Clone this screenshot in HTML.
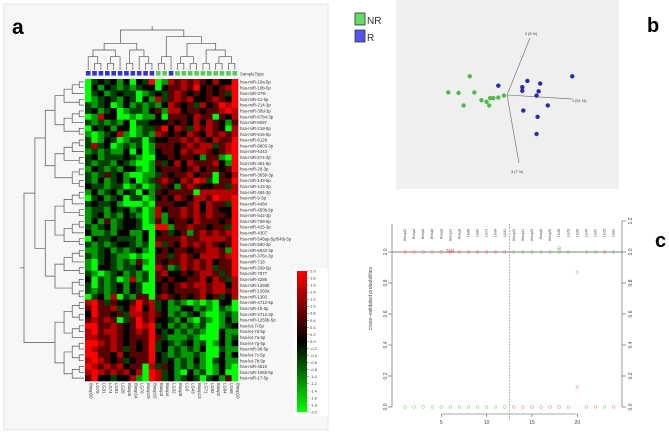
<!DOCTYPE html>
<html><head><meta charset="utf-8"><style>
body{margin:0;background:#fff;width:669px;height:433px;overflow:hidden;font-family:"Liberation Sans",sans-serif}
svg text{font-family:"Liberation Sans",sans-serif}
</style></head><body>
<svg id="fig" width="669" height="433" viewBox="0 0 669 433" xmlns="http://www.w3.org/2000/svg">
<rect x="4" y="4" width="324" height="426" fill="#f7f7f7" stroke="#e6e6e6"/>
<text x="12" y="34" font-size="21" font-weight="bold">a</text>
<text x="647" y="32" font-size="20" font-weight="bold">b</text>
<text x="655" y="247" font-size="20" font-weight="bold">c</text>
<g id="heat"></g>
<g id="pca"></g>
<g id="prob"></g>
</svg>
<script>
// ---------- Panel a data ----------
const rowLabels=["hsa-miR-10a-5p","hsa-miR-10b-5p","hsa-miR-378i","hsa-miR-21-5p","hsa-miR-214-3p","hsa-miR-30d-3p","hsa-miR-6784-3p","hsa-miR-6087","hsa-miR-218-5p","hsa-miR-615-5p","hsa-miR-6128","hsa-miR-6803-3p","hsa-miR-4443","hsa-miR-574-3p","hsa-miR-361-5p","hsa-miR-28-3p","hsa-miR-365b-3p","hsa-miR-143-5p","hsa-miR-143-3p","hsa-miR-494-3p","hsa-miR-9-3p","hsa-miR-4484","hsa-miR-450b-5p","hsa-miR-542-3p","hsa-miR-769-5p","hsa-miR-425-3p","hsa-miR-4307","hsa-miR-548ap-5p/548j-5p","hsa-miR-590-3p","hsa-miR-6832-3p","hsa-miR-376c-3p","hsa-miR-718","hsa-miR-339-5p","hsa-miR-7977","hsa-miR-4286","hsa-miR-1260b","hsa-miR-1260a","hsa-miR-1303","hsa-miR-4712-5p","hsa-miR-16-5p","hsa-miR-4712-3p","hsa-miR-1255b-5p","hsa-let-7i-5p","hsa-let-7d-5p","hsa-let-7a-5p","hsa-let-7g-5p","hsa-miR-98-5p","hsa-let-7c-5p","hsa-let-7b-5p","hsa-miR-4510","hsa-miR-106b-5p","hsa-miR-17-5p"];
const colLabels=["Biosp20","LG78","LG31","LG74","LG81","LG28","Biosp5","Biosp14","LG76","Biosp19","Biosp15","Biosp3","Biosp4","LG32","Biosp8","LG9","LG43","Biosp13","LG71","LG82","Biosp2","LG84","LG68","Biosp10"];
const sampleType=["R","R","R","R","R","R","R","R","R","R","R","NR","NR","R","NR","NR","NR","NR","NR","NR","NR","NR","NR","NR"];
// codes: G=-2 g=-1.2 d=-0.5 k=0 r=0.7 R=1.4 X=2
const heatRows=[
"GdkdkgkGkdXGgRrRrRrkRkkX","GkgkdgdgdkkGkrrRrXkrkrRX","GdkgdkddGgdkdrRrkrkrkrdX","GgdkdgkdGkgRdrRrRkkrRrkX",
"dgdkGgkgdgdgkRrkrdRkrXRX","dkgdkGgddgkrgRRkrrkrrRXR","GgRkkGGgGggkGrrrkRrrGrkR","dgdgdgkGddkkkrkrkRkRrkgr",
"GkdkgkkGgddrXkRrdRrRrkGR","gGgdkRgGgdgRrkrkRrkRrRrR","dGgkdGgddGdkkrrRrRrkRrrX","dRdkGgdgdGgrrrkrRrRRdrRX",
"gdgdggkGkGgkrrkRrRRrkrRX","dkgdddkdgGGkkrkrrkgrrgGX","dgddgkdgGGgrdkRkRrrrRkgX","gkdgdgkkgGgkrrrkrRkrrkrX",
"dgdrdkgGGggdrkrrRkrrGrkR","dgkgdkgkGgdrRrkRrXRdGrrX","kddgddGgdGgdrkgrRrkkrrdR","gkgdkgkdGkgrkrrrrGRRRRRR",
"GdkgdkGddGgkrkRrkRRrXRRX","dkddkgGGGgGrrrkkrRkRrrdX","gddgkdkgdGgRkrrRrRkRrkkX","gdkgdgkdgGgRgrrRrRrRrrkX",
"gkgrgdkkdGgrgkrrkRrrrkrX","dgdkgdkkdGGXXgrrRrrkrrdX","kggdgkkggkGkrdkrgrRrRrRX","GkddkdddgkGrrrrRrrRRRRrX",
"dgdgdkkdgdGRdrkRrRrRrkrX","ggdkgdgdkgGkrkrrkrrRRrgX","dgdkdggGgGGrrdrRrkRRRrRX","gGdkdgdgrgGrkrrRrRrRkrrX",
"gGkkdgddkGGRrgdRrRrRdrrX","dgGgdkgdgdGrRkkrkrRRrdrX","kGdgdGgRgdGrkrkkrrRkRrdR","dGdgdkgkdGGkrkrRrRRrRRkR",
"dgdgdkgkdGGkrkrrrrRrRRrR","GdkgRGdgrrGrRrkrkrRkrdkR",
"RXrdrkkrXrRdkgdgGgGgGkkG","rXrrRdkRXkRdkggkkgdgGdgG","kXrrkrdRRrRrkgdgdkgGGgdg","rRrRrGdrXrRkkdgkgGdgGgkg",
"XXrrRrkrXRXdkgdgdgdGGgdk","RXrRRrkrRrXkdkgdgdgGGkgg","RRrrRrkrrrXrdgggdgGGGkgd","XXRrRrkrkrXdkdgdkgdGgkgk",
"XRrrRrdrkrXdkgdgdgkGGdgg","XXrrkRkrrrXkdgdggdgGGkgk","RXRrkrdkrrXkdkgdgkgGdkgg","XRrRrRkrrGRdrkgdgdgGgkgG",
"RXRrRrRkRGXRdkgGkgdGgkGG","rXkkdkkRgGXRdkgdkdGdkgrG"];
const codeVal={G:-2,g:-1.2,d:-0.5,k:0,r:0.7,R:1.4,X:2};
const cbTicks=[2.0,1.8,1.6,1.4,1.2,1.0,0.8,0.6,0.4,0.2,0.0,-0.2,-0.4,-0.6,-0.8,-1.0,-1.2,-1.4,-1.6,-1.8,-2.0];
const colTree=[[[[0,[1,2]],[[3,4],5]],[[6,7],[8,[9,10]]]],[[[11,12],13],[[[14,15],[16,17]],[[18,19],[[20,21],[22,23]]]]]];
// ---------- Panel b data ----------
const nrPC1=[-1.15,-0.95,-0.73,-0.64,-0.85,-0.5,-0.4,-0.33,-0.35,-0.27,-0.17,-0.06];
const nrPC2=[0.05,0.04,0.36,0.05,-0.2,-0.1,-0.13,-0.06,-0.2,-0.06,-0.05,-0.01];
const rPC1=[-0.17,0.4,0.65,0.3,0.3,0.62,0.58,1.28,0.8,0.32,0.6,0.58];
const rPC2=[0.18,0.27,0.22,0.15,0.08,0.07,-0.01,0.36,-0.2,-0.3,-0.42,-0.75];
// ---------- Panel c data ----------
const caseIdx=[1,2,3,4,5,6,7,8,9,10,11,12,13,14,15,16,17,18,19,20,21,22,23,24];
const probR=[0,0,0,0,0,0,0,0,0,0,0,0,1,1,1,1,1,1,1,0.87,1,1,0,1];
const probNR=[1,1,1,1,1,1,1,1,1,1,1,1,0,0,0,0,0,0,0,0.13,0,0,1,0];
const caseLabels=["Biosp10","Biosp4","Biosp2","Biosp8","Biosp3","Biosp13","Biosp9","LG68","LG82","LG71","LG84","LG42","Biosp19","Biosp14","Biosp15","Biosp5","Biosp20","LG38","LG78","LG28","LG76","LG87","LG32","LG81"];
const yTicks=[0,0.2,0.4,0.6,0.8,1.0];
const yTicksR=[0,0.2,0.4,0.6,0.8,1.0,1.2];
const xTicks=[5,10,15,20];

const NS="http://www.w3.org/2000/svg";
function mk(tag,attrs,parent,txt){const e=document.createElementNS(NS,tag);for(const k in attrs)e.setAttribute(k,attrs[k]);if(txt!==undefined)e.textContent=txt;parent.appendChild(e);return e;}
function heatColor(v){const t=Math.max(-2,Math.min(2,v))/2;if(t>=0)return `rgb(${Math.round(255*t)},0,0)`;return `rgb(0,${Math.round(255*-t)},0)`;}

// ----- heatmap -----
const HM=document.getElementById('heat');
const hx0=85,hx1=238,hy0=79,hy1=381;
const cw=(hx1-hx0)/colLabels.length, rh=(hy1-hy0)/rowLabels.length;
const cxf=i=>hx0+cw*(i+0.5), ryf=j=>hy0+rh*(j+0.5);
heatRows.forEach((row,j)=>{for(let i=0;i<row.length;i++){
 const c=mk('rect',{x:hx0+cw*i,y:hy0+rh*j,width:cw+0.3,height:rh+0.3,fill:heatColor(codeVal[row[i]])},HM);
 
 
}});
rowLabels.forEach((l,j)=>{const t=mk('text',{x:240,y:ryf(j)+1.6,'font-size':4.3,fill:'#333'},HM,l);
 
 });
colLabels.forEach((l,i)=>{const t=mk('text',{x:0,y:0,'font-size':4.3,fill:'#333',transform:`translate(${cxf(i)+1.5},383) rotate(90)`},HM,l);
 
 });
sampleType.forEach((s,i)=>{const r=mk('rect',{x:cxf(i)-2.3,y:71,width:4.6,height:4.6,fill:s==='R'?'#3333cc':'#55cc55'},HM);
 
 });
{const t=mk('text',{x:240,y:75.5,'font-size':4.3,fill:'#333'},HM,'SampleType');}
// top dendrogram
const dg=mk('g',{stroke:'#555','stroke-width':0.7,fill:'none'},HM);


function depth(n){return Array.isArray(n)?1+Math.max(depth(n[0]),depth(n[1])):0;}
const maxD=depth(colTree);
function drawTop(n){if(!Array.isArray(n))return{x:cxf(n),y:70};
 const a=drawTop(n[0]),b=drawTop(n[1]);const y=70-depth(n)/maxD*40;
 mk('path',{d:`M${a.x},${a.y}V${y}H${b.x}V${b.y}`},dg);return{x:(a.x+b.x)/2,y};}
const topNode=drawTop(colTree);mk('path',{d:`M${topNode.x},${topNode.y}V${topNode.y-4}`},dg);
// left dendrogram (balanced)
const lg=mk('g',{stroke:'#555','stroke-width':0.7,fill:'none'},HM);


function bal(lo,hi){if(lo===hi)return lo;const m=Math.floor((lo+hi)/2);return[bal(lo,m),bal(m+1,hi)];}
const rowTree=[bal(0,37),bal(38,51)];const maxR=depth(rowTree);
function drawLeft(n){if(!Array.isArray(n))return{x:84,y:ryf(n)};
 const a=drawLeft(n[0]),b=drawLeft(n[1]);const x=84-Math.pow(depth(n)/maxR,1.3)*60;
 mk('path',{d:`M${a.x},${a.y}H${x}V${b.y}H${b.x}`},lg);return{x,y:(a.y+b.y)/2};}
const leftNode=drawLeft(rowTree);mk('path',{d:`M${leftNode.x},${leftNode.y}H${leftNode.x-4}`},lg);
// colorbar
{const bg=mk('rect',{x:294,y:268,width:34,height:148,fill:'#fff'},HM);
 const defs=mk('defs',{},HM);const gr=mk('linearGradient',{id:'cbg',x1:0,y1:0,x2:0,y2:1},defs);
 mk('stop',{offset:'0',"stop-color":'#ff0000'},gr);mk('stop',{offset:'0.5',"stop-color":'#000'},gr);mk('stop',{offset:'1',"stop-color":'#00ff00'},gr);
 const cb=mk('rect',{x:297,y:271,width:10,height:141,fill:'url(#cbg)'},HM);
 cbTicks.forEach(v=>{const y=271+(2-v)/4*141;mk('line',{x1:307,x2:309,y1:y,y2:y,stroke:'#555','stroke-width':0.5},HM);
  const t=mk('text',{x:310,y:y+1.4,'font-size':4,fill:'#333'},HM,v.toFixed(1));});}

// ----- PCA -----
const PC=document.getElementById('pca');
{const r=mk('rect',{x:396,y:0,width:223,height:189,fill:'#efefef'},PC);
 const lb=mk('rect',{x:350,y:8,width:44,height:42,fill:'#fff'},PC);
 const a=mk('rect',{x:355,y:13,width:10,height:12,fill:'#66dd66',stroke:'#333','stroke-width':0.8},PC);
 const b=mk('rect',{x:355,y:30,width:10,height:12,fill:'#5555ee',stroke:'#333','stroke-width':0.8},PC);
 const t1=mk('text',{x:367,y:24,'font-size':10,fill:'#333'},PC,'NR');
 const t2=mk('text',{x:367,y:41,'font-size':10,fill:'#333'},PC,'R');}
const ox=507,oy=95;
const px=v=>ox+v*51, py=v=>oy-v*52;
[[ox,oy,530,38,'2 (9 %)',525,35],[ox,oy,572,99,'1 (51 %)',572,102],[ox,oy,519,163,'3 (7 %)',511,173]].forEach(a=>{
 const l=mk('line',{x1:a[0],y1:a[1],x2:a[2],y2:a[3],stroke:'#777','stroke-width':0.7},PC);
 const t=mk('text',{x:a[5],y:a[6],'font-size':3.8,fill:'#333'},PC,a[4]);});
nrPC1.forEach((v,i)=>{const c=mk('circle',{cx:px(v),cy:py(nrPC2[i]),r:2.2,fill:'#4cbb4c'},PC);});
rPC1.forEach((v,i)=>{const c=mk('circle',{cx:px(v),cy:py(rPC2[i]),r:2.2,fill:'#2a2aa8'},PC);});

// ----- probability plot -----
const PR=document.getElementById('prob');
const xs=v=>405+(v-1)*9.07, ys=v=>407-v*155;
const ax=mk('g',{stroke:'#555','stroke-width':0.6,fill:'none'},PR);


mk('line',{x1:392,x2:392,y1:ys(0),y2:ys(1.18)},ax);mk('line',{x1:622,x2:622,y1:ys(0),y2:ys(1.2)},ax);
mk('line',{x1:xs(5),x2:xs(20),y1:414,y2:414},ax);
yTicks.forEach(v=>{mk('line',{x1:388,x2:392,y1:ys(v),y2:ys(v)},ax);
 const t=mk('text',{x:0,y:0,'font-size':5,fill:'#444','text-anchor':'middle',transform:`translate(387,${ys(v)}) rotate(-90)`},PR,v.toFixed(1));});
yTicksR.forEach(v=>{mk('line',{x1:622,x2:626,y1:ys(v),y2:ys(v)},ax);
 const t=mk('text',{x:0,y:0,'font-size':5,fill:'#444','text-anchor':'middle',transform:`translate(632,${ys(v)}) rotate(-90)`},PR,v.toFixed(1));});
xTicks.forEach(v=>{mk('line',{x1:xs(v),x2:xs(v),y1:414,y2:417},ax);
 const t=mk('text',{x:xs(v),y:424,'font-size':5,fill:'#444','text-anchor':'middle'},PR,v);});
{const t=mk('text',{x:0,y:0,'font-size':5,fill:'#444','text-anchor':'middle',transform:`translate(372,${ys(0.7)}) rotate(-90)`},PR,'cross−validated probabilities');
 const h=mk('line',{x1:392,x2:622,y1:ys(1),y2:ys(1),stroke:'#555','stroke-width':0.8},PR);
 const d=mk('line',{x1:xs(12.5),x2:xs(12.5),y1:ys(1.18),y2:420,stroke:'#666','stroke-width':0.6,'stroke-dasharray':'1.5,1.5'},PR);}
caseIdx.forEach((k,i)=>{
 const a=mk('circle',{cx:xs(k),cy:ys(probNR[i]),r:1.4,fill:'none',stroke:'#f07070','stroke-width':0.5},PR);
 const b=mk('circle',{cx:xs(k),cy:ys(probR[i]),r:1.4,fill:'none',stroke:'#66cc66','stroke-width':0.5},PR);
 const t=mk('text',{x:0,y:0,'font-size':3.3,fill:'#444',transform:`translate(${xs(k)+1},${ys(1.15)}) rotate(-90)`,'text-anchor':'end'},PR,caseLabels[i]);});
{const t=mk('text',{x:xs(6),y:ys(1.0)+1,'font-size':5.5,fill:'#f05050','text-anchor':'middle'},PR,'NR');
 const u=mk('text',{x:xs(18),y:ys(1.01),'font-size':5.5,fill:'#55bb55','text-anchor':'middle'},PR,'R');}
</script>
</body></html>
